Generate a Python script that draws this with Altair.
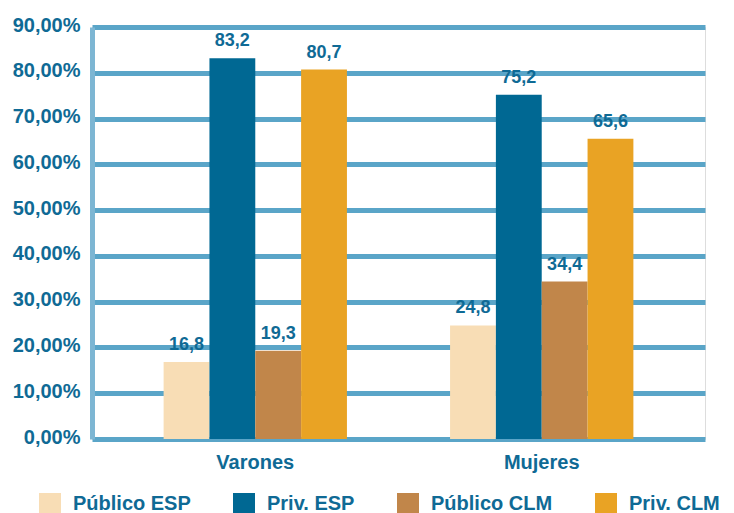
import altair as alt
import pandas as pd

grupos = ["Varones", "Mujeres"]
series = ["Público ESP", "Priv. ESP", "Público CLM", "Priv. CLM"]
colores = ["#F8DDB5", "#006893", "#C1864A", "#E9A324"]
valores_varones = [16.8, 83.2, 19.3, 80.7]
valores_mujeres = [24.8, 75.2, 34.4, 65.6]
y_ticks = [0, 10, 20, 30, 40, 50, 60, 70, 80, 90]

rows = []
for g, vals in zip(grupos, [valores_varones, valores_mujeres]):
    for s, v in zip(series, vals):
        rows.append({"grupo": g, "serie": s, "valor": v})
df = pd.DataFrame(rows)

TXT = "#0F6A95"
FONT = "Liberation Sans"

x = alt.X("grupo:N", sort=grupos, title=None,
          scale=alt.Scale(paddingInner=0.36, paddingOuter=0.25),
          axis=alt.Axis(domain=False, ticks=False, labelAngle=0, labelFontSize=20,
                        labelFont=FONT, labelFontWeight="bold", labelColor=TXT,
                        labelPadding=13))
xo = alt.XOffset("serie:N", sort=series, scale=alt.Scale(paddingInner=0, paddingOuter=0))
y = alt.Y("valor:Q", title=None,
          scale=alt.Scale(domain=[0, 90], nice=False),
          axis=alt.Axis(values=y_ticks, ticks=False, domainColor="#7DB6D3", domainWidth=5,
                        gridColor="#5AA5C8", gridWidth=5, gridOpacity=1,
                        labelFontSize=20, labelFont=FONT, labelFontWeight="bold",
                        labelColor=TXT, labelPadding=12, labelOffset=-2,
                        labelExpr="replace(format(datum.value, '.2f'), '.', ',') + '%'"))

bars = alt.Chart(df).mark_bar(opacity=1).encode(
    x=x, xOffset=xo, y=y,
    color=alt.Color("serie:N", sort=series,
                    scale=alt.Scale(domain=series, range=colores),
                    legend=alt.Legend(title=None, orient="none", legendX=-53, legendY=466,
                                      direction="horizontal", columns=4, columnPadding=42,
                                      symbolType="square", symbolSize=484, symbolStrokeWidth=0,
                                      symbolOpacity=1, labelOffset=12, padding=0,
                                      labelFontSize=20, labelFont=FONT,
                                      labelFontWeight="bold", labelColor=TXT,
                                      labelLimit=300)),
)

labels = alt.Chart(df).transform_calculate(
    lab="replace(format(datum.valor, '.1f'), '.', ',')"
).mark_text(baseline="bottom", dy=-8, fontSize=18, font=FONT, fontWeight="bold",
            color=TXT).encode(
    x=alt.X("grupo:N", sort=grupos), xOffset=alt.XOffset("serie:N", sort=series),
    y=alt.Y("valor:Q"), text="lab:N")

chart = (bars + labels).properties(
    width=613, height=412,
    autosize=alt.AutoSizeParams(type="none"),
    padding={"left": 84, "top": 19, "right": 21, "bottom": 74},
).configure_view(stroke=None).configure(background="white")

chart.save("out.html", embed_options={"renderer": "svg", "actions": False})
